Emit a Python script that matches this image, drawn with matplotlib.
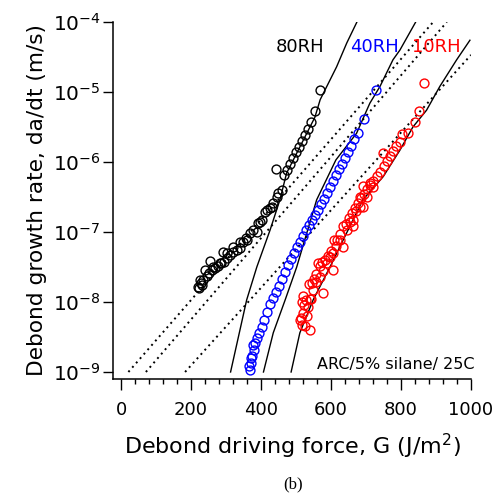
import numpy as np
import matplotlib
matplotlib.use("Agg")
import matplotlib.pyplot as plt
from matplotlib.ticker import FixedLocator, LogLocator, NullLocator

# ── Data ─────────────────────────────────────────────────────────────────────
# 80 %RH data: G (J/m^2), log10 da/dt (m/s)
g_80 = [221, 223, 226, 229, 232, 234, 240, 245, 251, 254, 260, 263, 269, 277,
        283, 286, 291, 294, 302, 303, 311, 320, 320, 331, 340, 340, 349, 357,
        359, 369, 377, 388, 391, 397, 403, 411, 416, 426, 431, 434, 445, 449,
        459, 466, 474, 483, 491, 500, 509, 517, 526, 534, 543, 554, 569, 443]
lg_80 = [-7.78, -7.80, -7.69, -7.73, -7.76, -7.69, -7.54, -7.63, -7.59, -7.42,
         -7.54, -7.50, -7.51, -7.49, -7.44, -7.44, -7.28, -7.43, -7.30, -7.37,
         -7.33, -7.29, -7.21, -7.26, -7.23, -7.14, -7.14, -7.09, -7.11, -7.01,
         -6.97, -7.00, -6.87, -6.85, -6.83, -6.71, -6.69, -6.66, -6.64, -6.59,
         -6.50, -6.44, -6.40, -6.19, -6.11, -6.03, -5.94, -5.86, -5.79, -5.70,
         -5.61, -5.53, -5.43, -5.27, -4.97, -6.10]

# 40 %RH data
g_40 = [366, 369, 371, 372, 374, 378, 380, 383, 389, 394, 403, 409, 417, 426,
        434, 443, 451, 460, 469, 477, 486, 494, 503, 511, 520, 529, 537, 546,
        554, 563, 571, 580, 589, 597, 606, 614, 623, 631, 640, 649, 657, 666,
        677, 694, 729]
lg_40 = [-8.92, -8.97, -8.87, -8.80, -8.77, -8.62, -8.69, -8.59, -8.51, -8.44,
         -8.36, -8.26, -8.14, -8.03, -7.94, -7.86, -7.77, -7.67, -7.57, -7.47,
         -7.39, -7.30, -7.21, -7.14, -7.06, -6.97, -6.90, -6.83, -6.76, -6.69,
         -6.60, -6.53, -6.44, -6.36, -6.27, -6.19, -6.10, -6.03, -5.94, -5.86,
         -5.77, -5.67, -5.59, -5.39, -4.97]

# 10 %RH data
g_10 = [526, 517, 514, 510, 520, 523, 529, 517, 534, 540, 520, 537, 549, 546,
        551, 557, 563, 569, 569, 577, 574, 583, 588, 591, 600, 606, 606, 609,
        617, 626, 626, 634, 634, 643, 645, 651, 660, 663, 663, 669, 677, 683,
        683, 686, 691, 694, 702, 703, 711, 711, 720, 720, 731, 740, 751, 760,
        769, 777, 786, 797, 803, 820, 840, 851, 866, 691, 749, 540,
        530, 543, 556, 578, 596, 615, 654, 672]
lg_10 = [-8.35, -8.33, -8.23, -8.26, -8.16, -8.04, -7.97, -8.00, -8.07, -8.40,
         -7.92, -7.74, -7.83, -7.73, -7.67, -7.60, -7.44, -7.49, -7.64, -7.87,
         -7.43, -7.40, -7.44, -7.34, -7.27, -7.30, -7.54, -7.11, -7.11, -7.03,
         -7.11, -6.92, -7.21, -6.89, -6.97, -6.80, -6.73, -6.83, -6.92, -6.66,
         -6.59, -6.50, -6.64, -6.51, -6.64, -6.46, -6.50, -6.39, -6.33, -6.30,
         -6.27, -6.35, -6.20, -6.14, -6.06, -5.99, -5.91, -5.84, -5.77, -5.71,
         -5.60, -5.59, -5.43, -5.27, -4.87, -6.34, -5.87, -7.95,
         -8.20, -7.96, -7.72, -7.55, -7.36, -7.20, -6.86, -6.70]

# solid model curves
fit80_g = [313, 359, 388, 426, 454, 473, 554, 569, 588, 616, 645, 674]
fit80_lg = [-9.00, -7.97, -7.50, -6.97, -6.54, -6.16, -5.36, -5.11, -4.92,
            -4.64, -4.30, -4.00]
fit40_g = [407, 435, 469, 502, 531, 559, 614, 673, 711, 740, 777, 797, 842]
fit40_lg = [-9.00, -8.44, -7.97, -7.50, -7.01, -6.54, -5.97, -5.59, -5.16,
            -4.92, -4.54, -4.40, -4.00]
fit10_g = [486, 511, 549, 597, 645, 691, 749, 797, 834, 873, 911, 959, 997]
fit10_lg = [-9.00, -8.44, -7.97, -7.50, -7.01, -6.54, -6.21, -5.83, -5.50,
            -5.26, -4.92, -4.54, -4.26]

# dotted straight lines (end points)
dotA_g, dotA_lg = [21, 892], [-9.0, -4.0]
dotB_g, dotB_lg = [71, 931], [-9.0, -4.0]
dotC_g, dotC_lg = [183, 1000], [-9.0, -4.47]

labels = ["80RH", "40RH", "10RH"]
label_g = [443, 654, 831]
label_colors = ["black", "blue", "red"]

# ── Figure ───────────────────────────────────────────────────────────────────
plt.rcParams["font.family"] = "DejaVu Sans"
fig = plt.figure(figsize=(5.02, 4.96), dpi=100, facecolor="white")
ax = fig.add_axes([0.2251, 0.2359, 0.7131, 0.7197])
ax.set_yscale("log")

for g, lg in [(dotA_g, dotA_lg), (dotB_g, dotB_lg), (dotC_g, dotC_lg)]:
    ax.plot(g, 10.0 ** np.array(lg), color="black", lw=1.4,
            linestyle=(0, (1, 2)), dash_capstyle="butt", zorder=2)

for g, lg in [(fit80_g, fit80_lg), (fit40_g, fit40_lg), (fit10_g, fit10_lg)]:
    ax.plot(g, 10.0 ** np.array(lg), color="black", lw=1.0, zorder=3)

for g, lg, c in [(g_80, lg_80, "black"), (g_40, lg_40, "blue"),
                 (g_10, lg_10, "red")]:
    ax.plot(g, 10.0 ** np.array(lg), "o", mfc="none", mec=c, ms=6.4,
            mew=1.0, zorder=4)

for txt, g, c in zip(labels, label_g, label_colors):
    ax.text(g, 10 ** -4.36, txt, color=c, fontsize=13, ha="left", va="center")

ax.text(1011, 10 ** -8.9, "ARC/5% silane/ 25C", fontsize=11.5,
        ha="right", va="center")

ax.set_xlim(-23, 1000)
ax.set_ylim(10 ** -9.1, 1e-4)

ax.xaxis.set_major_locator(FixedLocator([0, 200, 400, 600, 800, 1000]))
ax.xaxis.set_minor_locator(FixedLocator(np.arange(0, 1001, 40)))
ax.yaxis.set_major_locator(LogLocator(base=10, numticks=10))
ax.yaxis.set_minor_locator(NullLocator())

for s in ["top", "right"]:
    ax.spines[s].set_visible(False)
for s in ["left", "bottom"]:
    ax.spines[s].set_linewidth(1.1)

ax.tick_params(axis="x", which="major", direction="out", length=8, width=1,
               pad=8, labelsize=13)
ax.tick_params(axis="x", which="minor", direction="out", length=3.6, width=1)
ax.tick_params(axis="y", which="major", direction="out", length=7, width=1,
               pad=2, labelsize=14.5)

ax.set_xlabel("Debond driving force, G (J/m$^2$)", fontsize=16, labelpad=9)
ax.set_ylabel("Debond growth rate, da/dt (m/s)", fontsize=15.6, labelpad=4)

fig.text(0.584, 0.024, "(b)", family="Liberation Serif", fontsize=12,
         ha="center", va="center")

fig.savefig("out.png", dpi=100, facecolor="white")
